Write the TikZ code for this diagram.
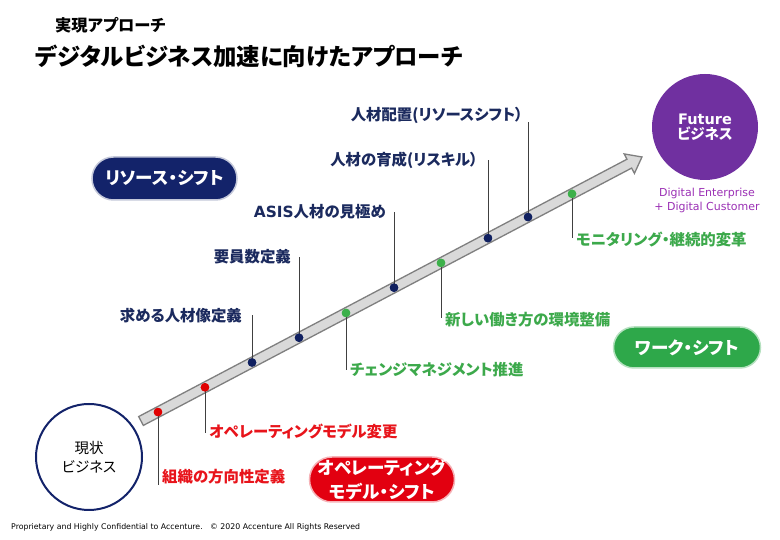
\documentclass[tikz,border=0pt]{standalone}
\usepackage{fontspec}
\setmainfont{Noto Sans CJK JP}[RawFeature=+palt]
\newfontfamily\lat{DejaVu Sans}
\usetikzlibrary{calc}
\definecolor{navyT}{HTML}{1B2A5E}
\definecolor{navyP}{HTML}{13236A}
\definecolor{navyD}{HTML}{102060}
\definecolor{greenT}{HTML}{3CA94B}
\definecolor{greenP}{HTML}{2EA84A}
\definecolor{greenD}{HTML}{3CB04A}
\definecolor{redT}{HTML}{E8141B}
\definecolor{redP}{HTML}{E20010}
\definecolor{redD}{HTML}{E00000}
\definecolor{purpleC}{HTML}{7030A0}
\definecolor{purpleT}{HTML}{9B30B5}
\definecolor{tickgray}{HTML}{404040}
\definecolor{arrfill}{HTML}{D9D9D9}
\definecolor{arrline}{HTML}{7F7F7F}
\begin{document}
\begin{tikzpicture}[x=1pt,y=1pt,
  every node/.style={inner sep=0pt},
  lab/.style={font=\bfseries\fontsize{15.4}{18}\selectfont},
  labN/.style={lab,text=navyT,anchor=east},
  labG/.style={lab,text=greenT,anchor=west},
  labR/.style={lab,text=redT,anchor=west},
  tick/.style={draw=tickgray,line width=0.8pt},
  dot/.style={circle,minimum size=8.5pt,inner sep=0pt},
  pilltxt/.style={text=white,font=\bfseries\fontsize{17.5}{24}\selectfont,align=center},
  pill/.style={pilltxt,line width=1.5pt,rounded corners=#1}]
\useasboundingbox (0,0) rectangle (780,540);
\fill[white] (0,0) rectangle (780,540);

% titles
\node[anchor=west,font=\bfseries\fontsize{16.3}{18}\selectfont] (t1) at (55,515) {実現アプローチ};
\node[anchor=west,font=\bfseries\fontsize{23.4}{28}\selectfont] (t2) at (35,484) {デジタルビジネス加速に向けたアプローチ};

% circles
\node[circle,draw=navyP,line width=2pt,fill=white,minimum size=106pt,align=center,
  font=\fontsize{14.5}{19}\selectfont] (now) at (89,83) {現状\\ビジネス};
\node[circle,fill=purpleC,minimum size=106pt,align=center,text=white] (fut) at (705,413)
  {{\lat\bfseries\fontsize{14.5}{19}\selectfont Future}\\[1pt]{\bfseries\fontsize{14.5}{19}\selectfont ビジネス}};
\node[text=purpleT,align=center,font=\lat\fontsize{11}{14}\selectfont] (dig) at (707,340)
  {Digital Enterprise\\+ Digital Customer};

% pills
\node[pill=21.5pt,draw=navyP!25,fill=navyP,minimum width=145pt,minimum height=43pt] (rs) at (164.5,361.5) {リソース・シフト};
\node[pill=20.5pt,draw=greenP!35,fill=greenP,minimum width=147pt,minimum height=41pt] (ws) at (687,192.5) {ワーク・シフト};
\node[pill=22.5pt,draw=redP!30,fill=redP,minimum width=145pt,minimum height=45pt] (os) at (382,60.5) {オペレーティング\\モデル・シフト};

% arrow
\coordinate (arrS) at (141,119);
\coordinate (arrT) at (642,383);
\begin{scope}[shift={(arrS)},rotate=27.79]
  \filldraw[fill=arrfill,draw=arrline,line width=1.3pt,line join=miter]
    (0,-5) -- (552,-5) -- (552,-11) -- (566.3,0) -- (552,11) -- (552,5) -- (0,5) -- cycle;
\end{scope}

% dots
\node[dot,fill=redD]   (d1)  at ($(arrS)!0.0339!(arrT)$) {};
\node[dot,fill=redD]   (d2)  at ($(arrS)!0.1277!(arrT)$) {};
\node[dot,fill=navyD]  (d3)  at ($(arrS)!0.2216!(arrT)$) {};
\node[dot,fill=navyD]  (d4)  at ($(arrS)!0.3154!(arrT)$) {};
\node[dot,fill=greenD] (d5)  at ($(arrS)!0.4092!(arrT)$) {};
\node[dot,fill=navyD]  (d6)  at ($(arrS)!0.5050!(arrT)$) {};
\node[dot,fill=greenD] (d7)  at ($(arrS)!0.5988!(arrT)$) {};
\node[dot,fill=navyD]  (d8)  at ($(arrS)!0.6926!(arrT)$) {};
\node[dot,fill=navyD]  (d9)  at ($(arrS)!0.7725!(arrT)$) {};
\node[dot,fill=greenD] (d10) at ($(arrS)!0.8603!(arrT)$) {};

% labels
\node[labR] (l1)  at (162,63)  {組織の方向性定義};
\node[labR] (l2)  at (209,108) {オペレーティングモデル変更};
\node[labN] (l3)  at (242,224) {求める人材像定義};
\node[labN] (l4)  at (291,283) {要員数定義};
\node[labG] (l5)  at (350,170) {チェンジマネジメント推進};
\node[labN] (l6)  at (386,328) {{\lat ASIS}人材の見極め};
\node[labG] (l7)  at (445,220) {新しい働き方の環境整備};
\node[labN] (l8)  at (478,380) {人材の育成(リスキル）};
\node[labN] (l9)  at (523,425) {人材配置(リソースシフト）};
\node[labG] (l10) at (576,300) {モニタリング・継続的変革};

% ticks
\coordinate (e1) at (d1 |- 0,55);
\coordinate (e2) at (d2 |- 0,107);
\coordinate (e3) at (d3 |- 0,225);
\coordinate (e4) at (d4 |- 0,283);
\coordinate (e5) at (d5 |- 0,170);
\coordinate (e6) at (d6 |- 0,328);
\coordinate (e7) at (d7 |- 0,222);
\coordinate (e8) at (d8 |- 0,380);
\coordinate (e9) at (d9 |- 0,418);
\coordinate (e10) at (d10 |- 0,302);
\foreach \i in {1,...,10} {\draw[tick] (d\i.center) -- (e\i);}
% redraw dots on top of ticks
\foreach \i/\c in {1/redD,2/redD,3/navyD,4/navyD,5/greenD,6/navyD,7/greenD,8/navyD,9/navyD,10/greenD}
  {\fill[\c] (d\i) circle (4.25pt);}

% footer
\node[anchor=west,font=\lat\fontsize{7.8}{9}\selectfont] (foot) at (11,13)
  {Proprietary and Highly Confidential to Accenture.\ \ \ © 2020 Accenture All Rights Reserved};
\end{tikzpicture}
\end{document}
